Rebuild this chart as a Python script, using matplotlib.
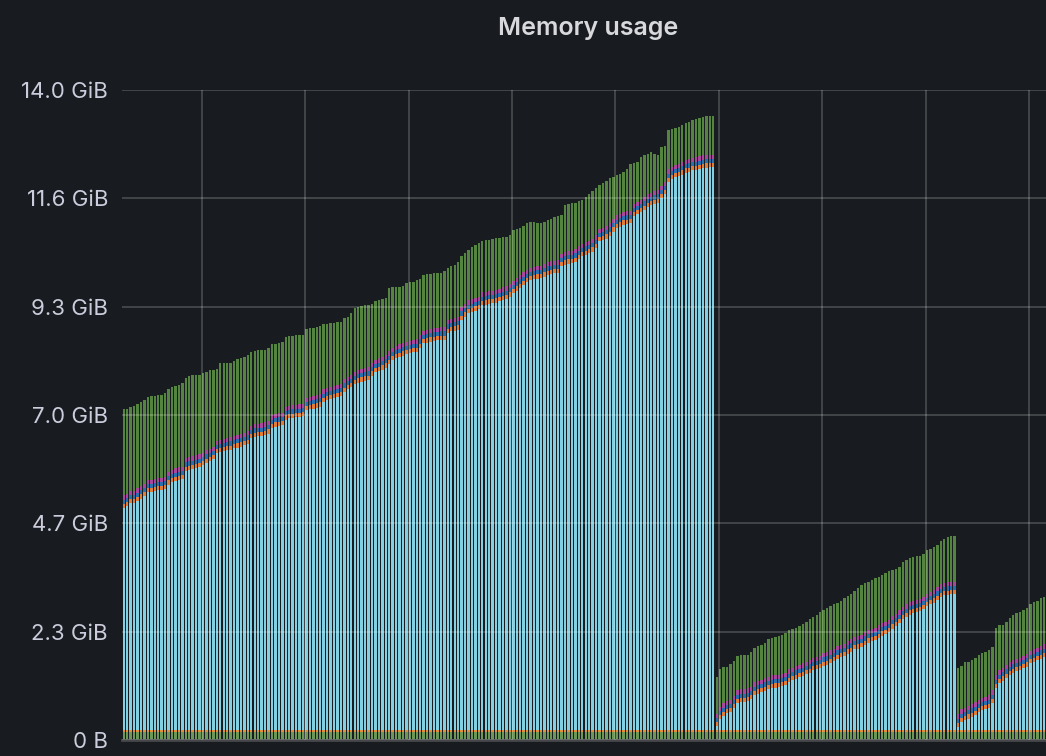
import numpy as np
import matplotlib
matplotlib.use("Agg")
import matplotlib.pyplot as plt

# stacked levels (GiB), one value per bar
# top of the light blue (cache) band
cache_top = [
    # first run
    5.0, 5.03, 5.1, 5.1, 5.15, 5.2, 5.25, 5.34, 5.34, 5.36,
    5.38, 5.38, 5.4, 5.5, 5.55, 5.58, 5.6, 5.62, 5.8, 5.82,
    5.84, 5.86, 5.88, 5.92, 5.97, 6.0, 6.05, 6.18, 6.2, 6.22,
    6.24, 6.25, 6.28, 6.3, 6.32, 6.35, 6.38, 6.5, 6.53, 6.54,
    6.55, 6.57, 6.6, 6.72, 6.75, 6.77, 6.78, 6.9, 6.93, 6.94,
    6.95, 6.96, 6.97, 7.1, 7.12, 7.14, 7.16, 7.18, 7.28, 7.32,
    7.34, 7.36, 7.38, 7.4, 7.5, 7.55, 7.6, 7.66, 7.7, 7.72,
    7.74, 7.76, 7.85, 7.92, 7.95, 7.98, 8.02, 8.1, 8.18, 8.22,
    8.25, 8.28, 8.31, 8.33, 8.35, 8.36, 8.45, 8.55, 8.56, 8.58,
    8.6, 8.61, 8.62, 8.62, 8.77, 8.8, 8.82, 8.84, 9.05, 9.12,
    9.2, 9.22, 9.25, 9.28, 9.37, 9.38, 9.4, 9.41, 9.42, 9.45,
    9.48, 9.5, 9.55, 9.62, 9.68, 9.74, 9.8, 9.86, 9.9, 9.92,
    9.94, 9.95, 9.98, 10.02, 10.04, 10.05, 10.06, 10.2, 10.24, 10.26,
    10.27, 10.3, 10.36, 10.42, 10.45, 10.48, 10.52, 10.6, 10.74, 10.76,
    10.8, 10.86, 10.95, 11.03, 11.06, 11.1, 11.12, 11.13, 11.28, 11.32,
    11.37, 11.42, 11.48, 11.52, 11.55, 11.57, 11.67, 11.75, 12.02, 12.08,
    12.12, 12.14, 12.18, 12.22, 12.24, 12.27, 12.28, 12.3, 12.32, 12.33, 12.34, 12.34,
    # second run
    0.30, 0.45, 0.52, 0.58, 0.6, 0.68, 0.8, 0.82, 0.82, 0.84,
    0.88, 0.97, 1.0, 1.03, 1.06, 1.09, 1.12, 1.13, 1.14, 1.16,
    1.18, 1.25, 1.29, 1.32, 1.35, 1.38, 1.42, 1.45, 1.5, 1.52,
    1.55, 1.6, 1.62, 1.66, 1.7, 1.75, 1.78, 1.8, 1.86, 1.9,
    1.95, 1.97, 2.0, 2.05, 2.1, 2.13, 2.15, 2.2, 2.25, 2.28,
    2.32, 2.4, 2.45, 2.52, 2.6, 2.65, 2.7, 2.73, 2.75, 2.77,
    2.82, 2.88, 2.92, 2.96, 3.02, 3.08, 3.12, 3.13, 3.14, 3.14,
    # third run
    0.28, 0.39, 0.43, 0.46, 0.5, 0.54, 0.6, 0.64, 0.66, 0.69,
    0.8, 1.12, 1.23, 1.28, 1.34, 1.4, 1.45, 1.48, 1.5, 1.55,
    1.58, 1.65, 1.68, 1.72, 1.75, 1.79,
]

# top of the whole stack (dark green band)
total_top = [
    7.13, 7.14, 7.17, 7.2, 7.24, 7.28, 7.32, 7.39, 7.4, 7.42,
    7.43, 7.44, 7.48, 7.55, 7.6, 7.62, 7.65, 7.7, 7.8, 7.84,
    7.86, 7.86, 7.87, 7.9, 7.93, 7.96, 7.98, 8.0, 8.12, 8.12,
    8.12, 8.13, 8.16, 8.2, 8.22, 8.25, 8.3, 8.36, 8.38, 8.39,
    8.4, 8.4, 8.45, 8.52, 8.54, 8.56, 8.57, 8.68, 8.7, 8.71,
    8.72, 8.72, 8.73, 8.85, 8.87, 8.88, 8.89, 8.92, 8.96, 8.97,
    8.98, 8.99, 9.0, 9.0, 9.08, 9.12, 9.2, 9.3, 9.33, 9.35,
    9.36, 9.37, 9.4, 9.46, 9.48, 9.5, 9.53, 9.74, 9.75, 9.76,
    9.76, 9.77, 9.84, 9.86, 9.87, 9.9, 9.92, 10.02, 10.03, 10.04,
    10.05, 10.06, 10.06, 10.1, 10.17, 10.2, 10.23, 10.3, 10.42, 10.49,
    10.55, 10.62, 10.66, 10.7, 10.75, 10.77, 10.78, 10.8, 10.81, 10.82,
    10.83, 10.83, 10.88, 10.98, 11.0, 11.03, 11.08, 11.13, 11.15, 11.16,
    11.14, 11.13, 11.16, 11.2, 11.23, 11.26, 11.28, 11.31, 11.52, 11.54,
    11.56, 11.57, 11.6, 11.63, 11.7, 11.76, 11.82, 11.9, 11.95, 11.99,
    12.05, 12.1, 12.13, 12.16, 12.2, 12.23, 12.3, 12.4, 12.43, 12.45,
    12.55, 12.6, 12.63, 12.66, 12.62, 12.6, 12.77, 12.8, 13.14, 13.16,
    13.18, 13.2, 13.25, 13.3, 13.32, 13.36, 13.38, 13.4, 13.42, 13.43, 13.44, 13.44,
    1.36, 1.52, 1.57, 1.58, 1.63, 1.7, 1.8, 1.83, 1.83, 1.84,
    1.9, 1.99, 2.02, 2.05, 2.09, 2.18, 2.2, 2.22, 2.24, 2.26,
    2.3, 2.36, 2.4, 2.42, 2.45, 2.5, 2.55, 2.6, 2.64, 2.7,
    2.75, 2.8, 2.85, 2.88, 2.92, 2.96, 3.0, 3.05, 3.1, 3.15,
    3.2, 3.28, 3.34, 3.38, 3.4, 3.45, 3.5, 3.52, 3.55, 3.6,
    3.63, 3.66, 3.68, 3.72, 3.83, 3.88, 3.93, 3.94, 3.97, 3.96,
    4.01, 4.09, 4.12, 4.15, 4.2, 4.28, 4.34, 4.37, 4.39, 4.4,
    1.55, 1.6, 1.68, 1.68, 1.72, 1.77, 1.83, 1.88, 1.9, 1.93,
    2.0, 2.41, 2.48, 2.48, 2.54, 2.62, 2.7, 2.73, 2.76, 2.8,
    2.84, 2.92, 2.97, 3.0, 3.05, 3.08,
]

# thin bands, roughly constant height (GiB)
base_green = 0.17
base_yellow = 0.04
band_orange = 0.09
band_blue = 0.09
band_purple = 0.09

ytick_vals = [0, 14 / 6, 28 / 6, 7.0, 56 / 6, 70 / 6, 14.0]
ytick_labels = ["0 B", "2.3 GiB", "4.7 GiB", "7.0 GiB", "9.3 GiB", "11.6 GiB", "14.0 GiB"]

BG = "#181b1f"
TXT = "#ccccdc"

cache_top = np.array(cache_top)
total_top = np.array(total_top)
n = len(cache_top)
x = np.arange(n)

base = base_green + base_yellow
bands = band_orange + band_blue + band_purple
layers = [
    (np.full(n, base_green), "#6c9756"),
    (np.full(n, base_yellow), "#e0913a"),
    (cache_top - base, "#82d0e2"),
    (np.full(n, band_orange), "#e07d36"),
    (np.full(n, band_blue), "#2a6fae"),
    (np.full(n, band_purple), "#a9479c"),
    (total_top - cache_top - bands, "#54843f"),
]

fig = plt.figure(figsize=(10.46, 7.56), dpi=100, facecolor=BG)
ax = fig.add_axes([122 / 1046, 16 / 756, 924 / 1046, 650 / 756], facecolor=BG)

bottom = np.zeros(n)
for h, c in layers:
    ax.bar(x, h, bottom=bottom, width=0.7, color=c, linewidth=0, zorder=2)
    bottom = bottom + h

ax.set_xlim(-0.5, n - 0.5)
ax.set_ylim(0, 14.0)
ax.set_yticks(ytick_vals)
ax.set_yticklabels(ytick_labels)
ax.set_xticks(np.arange(22.6, n, 30))
ax.tick_params(axis="x", length=0, labelbottom=False)
ax.tick_params(axis="y", length=0, pad=10, colors=TXT, labelsize=16)
for lab in ax.get_yticklabels():
    lab.set_family(["Inter", "DejaVu Sans"])
ax.grid(True, color="white", alpha=0.2, linewidth=1.3, zorder=3)
ax.set_axisbelow(False)
for s in ["top", "right", "left"]:
    ax.spines[s].set_visible(False)
ax.spines["bottom"].set_color("#45474b")
ax.spines["bottom"].set_linewidth(2)

fig.text(588 / 1046, 1 - 28 / 756, "Memory usage", ha="center", va="center",
         color="#d8d9dc", fontsize=18, fontweight="semibold", family=["Inter", "DejaVu Sans"])

fig.savefig("out.png", dpi=100, facecolor=BG)
